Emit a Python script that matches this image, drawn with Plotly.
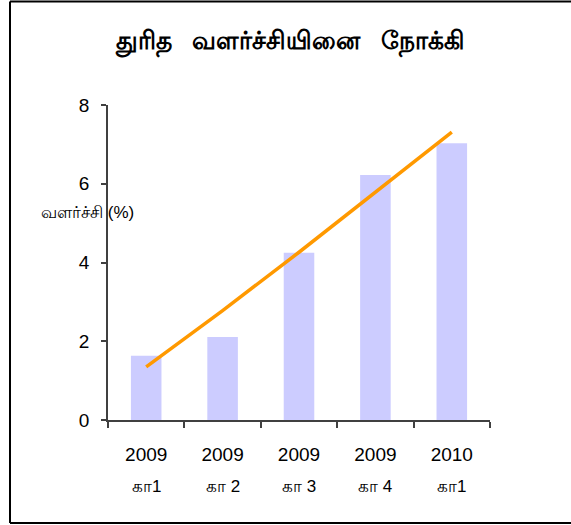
import plotly.graph_objects as go

# ---- data ----
years = ["2009", "2009", "2009", "2009", "2010"]
quarters = ["கா1", "கா 2", "கா 3", "கா 4", "கா1"]
categories = ["c1", "c2", "c3", "c4", "c5"]
growth = [1.63, 2.11, 4.25, 6.22, 7.03]
trend = [1.35, 2.78, 4.26, 5.78, 7.31]
y_ticks = [0, 2, 4, 6, 8]

NB = "\u00a0"
title_words = ["துரித", "வளர்ச்சியினை", "நோக்கி"]
title_text = (NB * 3).join(title_words)
y_title = "வளர்ச்சி (%)"

W, H = 571, 525
L, R, T, B = 108, 490, 105, 420
pw, ph = R - L, B - T

def px_x(px):
    return (px - L) / pw

def px_y(py):
    return (B - py) / ph

fig = go.Figure()
fig.add_trace(go.Bar(x=categories, y=growth, marker=dict(color="#CCCCFF", line=dict(width=0)),
                     width=0.4, hoverinfo="y"))
fig.add_trace(go.Scatter(x=categories, y=trend, mode="lines",
                         line=dict(color="#FF9900", width=3.5),
                         hoverinfo="skip"))

font_fam = "Liberation Sans, Noto Sans, sans-serif"

annotations = []
for c, q in zip(categories, quarters):
    annotations.append(dict(x=c, xref="x", y=px_y(486), yref="paper", text=q, showarrow=False,
                            xanchor="center", yanchor="middle",
                            font=dict(size=17, color="#000000", family=font_fam)))
annotations.append(dict(x=px_x(39), xref="paper", y=px_y(212), yref="paper", text=y_title,
                        showarrow=False, xanchor="left", yanchor="middle",
                        font=dict(size=17, color="#000000", family=font_fam)))

border = dict(color="#000000", width=2)
bx0, bx1, by0, by1 = px_x(10), px_x(640), px_y(523), px_y(1.5)
shapes = [
    dict(type="line", xref="paper", yref="paper", x0=bx0, x1=bx0, y0=by0, y1=by1, line=border),
    dict(type="line", xref="paper", yref="paper", x0=bx0, x1=bx1, y0=by1, y1=by1, line=border),
    dict(type="line", xref="paper", yref="paper", x0=bx0, x1=bx1, y0=by0, y1=by0, line=border),
]

fig.update_layout(
    width=W, height=H,
    margin=dict(l=L, r=W - R, t=T, b=H - B, pad=0),
    paper_bgcolor="#FFFFFF", plot_bgcolor="#FFFFFF",
    showlegend=False,
    title=dict(text="<b>" + title_text + "</b>", x=px_x(290), xref="paper", xanchor="center",
               y=1 - 40 / H, yref="container", yanchor="middle",
               font=dict(size=25, color="#000000", family=font_fam)),
    annotations=annotations,
    shapes=shapes,
)

fig.update_xaxes(
    type="category", tickmode="array", tickvals=categories, ticktext=years,
    range=[-0.5, 4.5], showline=True, linecolor="#404040", linewidth=1.5,
    ticks="outside", tickson="boundaries", ticklen=6, tickcolor="#404040", tickwidth=1.5,
    ticklabelstandoff=16, showgrid=False, zeroline=False,
    tickfont=dict(size=19, color="#000000", family=font_fam),
)
fig.update_yaxes(
    range=[0, 8], tickmode="array", tickvals=y_ticks, ticktext=[str(v) for v in y_ticks],
    showline=True, linecolor="#404040", linewidth=1.5,
    ticks="outside", ticklen=5, tickcolor="#404040", tickwidth=1.5,
    ticklabelstandoff=8, showgrid=False, zeroline=False,
    tickfont=dict(size=19, color="#000000", family=font_fam),
)

fig.write_html("out.html", config={"displayModeBar": False},
               post_script="document.body.style.margin='0';document.body.style.overflow='hidden';")
